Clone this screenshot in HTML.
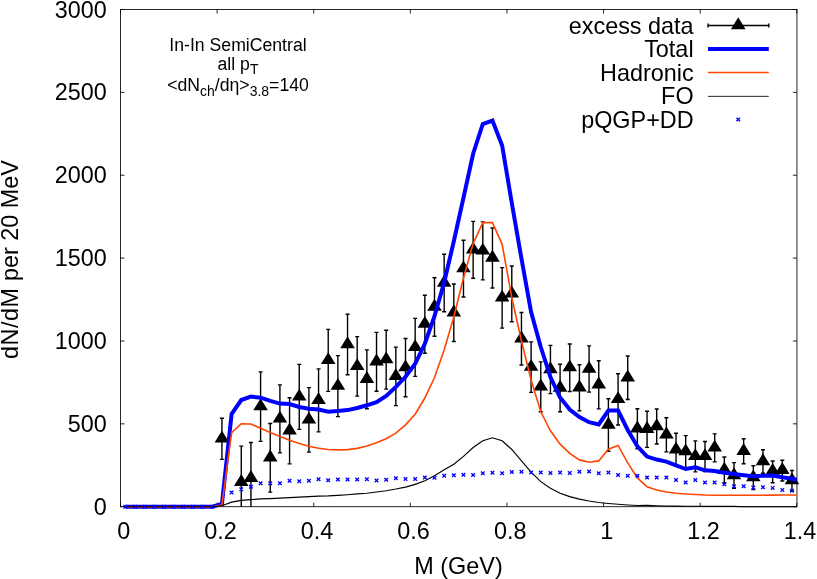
<!DOCTYPE html>
<html><head><meta charset="utf-8"><title>plot</title>
<style>
html,body{margin:0;padding:0;background:#fff;}
body{width:817px;height:579px;overflow:hidden;font-family:"Liberation Sans",sans-serif;}
svg{display:block;will-change:transform;}
text{font-family:"Liberation Sans",sans-serif;fill:#000;}
.t{font-size:23.4px;}
.a{font-size:17.65px;}
</style></head><body>
<svg width="817" height="579" viewBox="0 0 817 579">
<rect width="817" height="579" fill="#fff"/>

<rect x="120.5" y="9.5" width="676.45" height="497.2" fill="none" stroke="#000" stroke-width="0.85"/>
<path d="M120.50,506.7v-4M120.50,9.5v4M217.11,506.7v-4M217.11,9.5v4M313.73,506.7v-4M313.73,9.5v4M410.34,506.7v-4M410.34,9.5v4M506.96,506.7v-4M506.96,9.5v4M603.57,506.7v-4M603.57,9.5v4M700.18,506.7v-4M700.18,9.5v4M796.80,506.7v-4M796.80,9.5v4M120.5,506.70h4M796.95,506.70h-4M120.5,423.83h4M796.95,423.83h-4M120.5,340.97h4M796.95,340.97h-4M120.5,258.10h4M796.95,258.10h-4M120.5,175.23h4M796.95,175.23h-4M120.5,92.37h4M796.95,92.37h-4M120.5,9.50h4M796.95,9.50h-4" stroke="#000" stroke-width="0.85" fill="none"/>
<text class="t" x="123.80" y="539" text-anchor="middle">0</text>
<text class="t" x="220.41" y="539" text-anchor="middle">0.2</text>
<text class="t" x="317.03" y="539" text-anchor="middle">0.4</text>
<text class="t" x="413.64" y="539" text-anchor="middle">0.6</text>
<text class="t" x="510.26" y="539" text-anchor="middle">0.8</text>
<text class="t" x="606.87" y="539" text-anchor="middle">1</text>
<text class="t" x="703.48" y="539" text-anchor="middle">1.2</text>
<text class="t" x="800.10" y="539" text-anchor="middle">1.4</text>
<text class="t" x="106.7" y="514.80" text-anchor="end">0</text>
<text class="t" x="106.7" y="431.93" text-anchor="end">500</text>
<text class="t" x="106.7" y="349.07" text-anchor="end">1000</text>
<text class="t" x="106.7" y="266.20" text-anchor="end">1500</text>
<text class="t" x="106.7" y="183.33" text-anchor="end">2000</text>
<text class="t" x="106.7" y="100.47" text-anchor="end">2500</text>
<text class="t" x="106.7" y="17.60" text-anchor="end">3000</text>
<text class="t" x="458.5" y="574" text-anchor="middle">M (GeV)</text>
<text class="t" transform="translate(18.1,259.5) rotate(-90)" text-anchor="middle"><tspan letter-spacing="0.5">dN/dM</tspan> per 20 MeV</text>
<text class="a" x="238" y="50.7" text-anchor="middle">In-In SemiCentral</text>
<text class="a" x="238" y="69.8" text-anchor="middle">all p<tspan font-size="14" dy="4.4">T</tspan></text>
<text class="a" x="238" y="91.1" text-anchor="middle">&lt;dN<tspan font-size="14" dy="4.4">ch</tspan><tspan dy="-4.4">/d&#951;&gt;</tspan><tspan font-size="14" dy="4.4">3.8</tspan><tspan dy="-4.4">=140</tspan></text>
<text class="t" x="693.6" y="33.60" text-anchor="end">excess data</text>
<text class="t" x="693.6" y="57.10" text-anchor="end">Total</text>
<text class="t" x="693.6" y="80.60" text-anchor="end">Hadronic</text>
<text class="t" x="693.6" y="104.10" text-anchor="end">FO</text>
<text class="t" x="693.6" y="127.60" text-anchor="end">pQGP+DD</text>
<path d="M708,25.5H768.8M708,23.5v4M768.8,23.5v4" stroke="#000" stroke-width="1.4" fill="none"/>
<path d="M738.25,17.32L730.95,29.15L745.55,29.15Z" fill="#000"/>
<path d="M708,49H768.8" stroke="#0000ff" stroke-width="4"/>
<path d="M708,72.5H768.8" stroke="#ff4500" stroke-width="1.6"/>
<path d="M708,96.35H768.8" stroke="#000" stroke-width="0.85"/>
<path d="M736.45,117.70L740.05,121.30M736.45,121.30L740.05,117.70" stroke="#0000ff" stroke-width="1.3" fill="none"/>
<clipPath id="c"><rect x="120.5" y="9.5" width="676.45" height="497.7"/></clipPath>
<g clip-path="url(#c)">
<path d="M221.94,418.20V459.40M219.94,418.20h4M219.94,459.40h4M241.27,446.10V506.70M239.27,446.10h4M250.93,442.50V506.70M248.93,442.50h4M260.59,371.85V441.35M258.59,371.85h4M258.59,441.35h4M270.25,423.50V492.10M268.25,423.50h4M268.25,492.10h4M279.91,384.90V452.90M277.91,384.90h4M277.91,452.90h4M289.57,397.70V463.90M287.57,397.70h4M287.57,463.90h4M299.24,364.40V429.40M297.24,364.40h4M297.24,429.40h4M308.90,387.65V452.15M306.90,387.65h4M306.90,452.15h4M318.56,368.90V431.90M316.56,368.90h4M316.56,431.90h4M328.22,329.40V391.40M326.22,329.40h4M326.22,391.40h4M337.88,355.60V416.60M335.88,355.60h4M335.88,416.60h4M347.54,314.25V374.75M345.54,314.25h4M345.54,374.75h4M357.20,336.65V396.15M355.20,336.65h4M355.20,396.15h4M366.87,349.90V408.70M364.87,349.90h4M364.87,408.70h4M376.53,332.40V391.20M374.53,332.40h4M374.53,391.20h4M386.19,330.30V389.10M384.19,330.30h4M384.19,389.10h4M395.85,347.15V405.65M393.85,347.15h4M393.85,405.65h4M405.51,338.50V396.70M403.51,338.50h4M403.51,396.70h4M415.17,318.40V376.40M413.17,318.40h4M413.17,376.40h4M424.83,295.20V353.20M422.83,295.20h4M422.83,353.20h4M434.50,277.70V336.30M432.50,277.70h4M432.50,336.30h4M444.16,254.25V311.75M442.16,254.25h4M442.16,311.75h4M453.82,284.05V341.55M451.82,284.05h4M451.82,341.55h4M463.48,240.20V297.00M461.48,240.20h4M461.48,297.00h4M473.14,221.40V278.20M471.14,221.40h4M471.14,278.20h4M482.80,221.90V279.90M480.80,221.90h4M480.80,279.90h4M492.46,228.00V288.00M490.46,228.00h4M490.46,288.00h4M502.13,267.65V328.15M500.13,267.65h4M500.13,328.15h4M511.79,266.00V321.80M509.79,266.00h4M509.79,321.80h4M521.45,312.50V365.00M519.45,312.50h4M519.45,365.00h4M531.11,341.85V392.35M529.11,341.85h4M529.11,392.35h4M540.77,361.90V411.70M538.77,361.90h4M538.77,411.70h4M550.43,345.40V393.60M548.43,345.40h4M548.43,393.60h4M560.09,364.25V411.75M558.09,364.25h4M558.09,411.75h4M569.76,343.95V391.45M567.76,343.95h4M567.76,391.45h4M579.42,364.70V410.90M577.42,364.70h4M577.42,410.90h4M589.08,345.90V392.10M587.08,345.90h4M587.08,392.10h4M598.74,360.70V408.90M596.74,360.70h4M596.74,408.90h4M608.40,398.75V451.25M606.40,398.75h4M606.40,451.25h4M618.06,373.80V425.00M616.06,373.80h4M616.06,425.00h4M627.72,356.00V399.50M625.72,356.00h4M625.72,399.50h4M637.38,408.75V448.75M635.38,408.75h4M635.38,448.75h4M647.05,411.20V447.40M645.05,411.20h4M645.05,447.40h4M656.71,409.00V444.00M654.71,409.00h4M654.71,444.00h4M666.37,417.70V451.90M664.37,417.70h4M664.37,451.90h4M676.03,433.25V466.25M674.03,433.25h4M674.03,466.25h4M685.69,435.60V467.60M683.69,435.60h4M683.69,467.60h4M695.35,440.90V471.90M693.35,440.90h4M693.35,471.90h4M705.01,441.45V471.45M703.01,441.45h4M703.01,471.45h4M714.68,433.90V461.90M712.68,433.90h4M712.68,461.90h4M724.34,457.00V483.00M722.34,457.00h4M722.34,483.00h4M734.00,462.60V488.40M732.00,462.60h4M732.00,488.40h4M743.66,438.80V463.80M741.66,438.80h4M741.66,463.80h4M753.32,465.70V489.50M751.32,465.70h4M751.32,489.50h4M762.98,449.80V473.20M760.98,449.80h4M760.98,473.20h4M772.64,461.00V482.80M770.64,461.00h4M770.64,482.80h4M782.31,460.30V481.00M780.31,460.30h4M780.31,481.00h4M791.97,470.45V490.95M789.97,470.45h4M789.97,490.95h4" stroke="#000" stroke-width="1.4" fill="none"/>
</g>
<path d="M221.94,430.62L214.64,442.45L229.24,442.45ZM241.27,474.12L233.97,485.95L248.57,485.95ZM250.93,470.12L243.63,481.95L258.23,481.95ZM260.59,398.42L253.29,410.25L267.89,410.25ZM270.25,449.62L262.95,461.45L277.55,461.45ZM279.91,410.72L272.61,422.55L287.21,422.55ZM289.57,422.62L282.27,434.45L296.87,434.45ZM299.24,388.72L291.94,400.55L306.54,400.55ZM308.90,411.72L301.60,423.55L316.20,423.55ZM318.56,392.22L311.26,404.05L325.86,404.05ZM328.22,352.22L320.92,364.05L335.52,364.05ZM337.88,377.92L330.58,389.75L345.18,389.75ZM347.54,336.32L340.24,348.15L354.84,348.15ZM357.20,358.22L349.90,370.05L364.50,370.05ZM366.87,371.12L359.57,382.95L374.17,382.95ZM376.53,353.62L369.23,365.45L383.83,365.45ZM386.19,351.52L378.89,363.35L393.49,363.35ZM395.85,368.22L388.55,380.05L403.15,380.05ZM405.51,359.42L398.21,371.25L412.81,371.25ZM415.17,339.22L407.87,351.05L422.47,351.05ZM424.83,316.02L417.53,327.85L432.13,327.85ZM434.50,298.82L427.20,310.65L441.80,310.65ZM444.16,274.82L436.86,286.65L451.46,286.65ZM453.82,304.62L446.52,316.45L461.12,316.45ZM463.48,260.42L456.18,272.25L470.78,272.25ZM473.14,241.62L465.84,253.45L480.44,253.45ZM482.80,242.72L475.50,254.55L490.10,254.55ZM492.46,249.82L485.16,261.65L499.76,261.65ZM502.13,289.72L494.83,301.55L509.43,301.55ZM511.79,285.72L504.49,297.55L519.09,297.55ZM521.45,330.57L514.15,342.40L528.75,342.40ZM531.11,358.92L523.81,370.75L538.41,370.75ZM540.77,378.62L533.47,390.45L548.07,390.45ZM550.43,361.32L543.13,373.15L557.73,373.15ZM560.09,379.82L552.79,391.65L567.39,391.65ZM569.76,359.52L562.46,371.35L577.06,371.35ZM579.42,379.62L572.12,391.45L586.72,391.45ZM589.08,360.82L581.78,372.65L596.38,372.65ZM598.74,376.62L591.44,388.45L606.04,388.45ZM608.40,416.82L601.10,428.65L615.70,428.65ZM618.06,391.22L610.76,403.05L625.36,403.05ZM627.72,369.57L620.42,381.40L635.02,381.40ZM637.38,420.57L630.08,432.40L644.68,432.40ZM647.05,421.12L639.75,432.95L654.35,432.95ZM656.71,418.32L649.41,430.15L664.01,430.15ZM666.37,426.62L659.07,438.45L673.67,438.45ZM676.03,441.57L668.73,453.40L683.33,453.40ZM685.69,443.42L678.39,455.25L692.99,455.25ZM695.35,448.22L688.05,460.05L702.65,460.05ZM705.01,448.27L697.71,460.10L712.31,460.10ZM714.68,439.72L707.38,451.55L721.98,451.55ZM724.34,461.82L717.04,473.65L731.64,473.65ZM734.00,467.32L726.70,479.15L741.30,479.15ZM743.66,443.12L736.36,454.95L750.96,454.95ZM753.32,469.42L746.02,481.25L760.62,481.25ZM762.98,453.32L755.68,465.15L770.28,465.15ZM772.64,463.02L765.34,474.85L779.94,474.85ZM782.31,462.12L775.01,473.95L789.61,473.95ZM791.97,472.52L784.67,484.35L799.27,484.35Z" fill="#000"/>
<polyline points="125.33,506.70 134.99,506.70 144.65,506.70 154.31,506.70 163.98,506.70 173.64,506.70 183.30,506.70 192.96,506.70 202.62,506.70 212.28,506.70 221.94,504.00 231.61,414.00 241.27,400.00 250.93,396.60 260.59,397.70 270.25,400.90 279.91,403.60 289.57,404.00 299.24,407.00 308.90,408.75 318.56,409.50 328.22,411.75 337.88,411.00 347.54,410.10 357.20,408.00 366.87,405.30 376.53,402.10 386.19,395.90 395.85,386.90 405.51,376.80 415.17,363.75 424.83,343.75 434.50,316.25 444.16,282.50 453.82,241.25 463.48,197.75 473.14,153.75 482.80,124.00 492.46,120.50 502.13,145.50 511.79,203.00 521.45,258.50 531.11,312.00 540.77,347.00 550.43,377.00 560.09,397.50 569.76,409.50 579.42,417.00 589.08,422.20 598.74,424.40 608.40,410.50 618.06,410.50 627.72,430.00 637.38,446.25 647.05,456.55 656.71,459.55 666.37,461.55 676.03,465.30 685.69,469.05 695.35,467.30 705.01,470.30 714.68,471.05 724.34,472.80 734.00,474.00 743.66,475.20 753.32,476.20 762.98,475.80 772.64,475.50 782.31,477.30 791.97,478.70 796.80,479.80" fill="none" stroke="#0000ff" stroke-width="4" stroke-linejoin="miter" stroke-linecap="butt"/>
<polyline points="125.33,506.70 134.99,506.70 144.65,506.70 154.31,506.70 163.98,506.70 173.64,506.70 183.30,506.70 192.96,506.70 202.62,506.70 212.28,506.70 221.94,505.00 231.61,432.70 241.27,423.70 250.93,424.00 260.59,428.30 270.25,432.50 279.91,436.50 289.57,440.30 299.24,443.60 308.90,446.30 318.56,448.30 328.22,449.50 337.88,449.90 347.54,449.60 357.20,448.40 366.87,446.00 376.53,442.80 386.19,438.70 395.85,433.20 405.51,424.90 415.17,414.25 424.83,398.00 434.50,377.50 444.16,350.00 453.82,317.00 463.48,278.00 473.14,243.60 482.80,222.60 492.46,222.60 502.13,244.30 511.79,297.50 521.45,341.00 531.11,380.00 540.77,411.75 550.43,430.75 560.09,444.15 569.76,453.40 579.42,459.90 589.08,462.20 598.74,460.90 608.40,449.15 618.06,445.40 627.72,462.90 637.38,477.90 647.05,486.75 656.71,490.00 666.37,492.00 676.03,493.25 685.69,494.00 695.35,494.50 705.01,495.00 714.68,495.25 724.34,495.30 734.00,495.30 743.66,495.30 753.32,495.20 762.98,495.20 772.64,495.10 782.31,495.00 791.97,495.00 796.80,495.20" fill="none" stroke="#ff4500" stroke-width="1.6" stroke-linejoin="miter"/>
<polyline points="125.33,506.70 134.99,506.70 144.65,506.70 154.31,506.70 163.98,506.70 173.64,506.70 183.30,506.70 192.96,506.70 202.62,506.70 212.28,506.70 221.94,505.75 231.61,502.15 241.27,500.40 250.93,499.65 260.59,498.90 270.25,498.60 279.91,498.10 289.57,497.60 299.24,497.10 308.90,496.60 318.56,496.10 328.22,495.90 337.88,495.40 347.54,494.70 357.20,493.90 366.87,493.20 376.53,492.00 386.19,490.70 395.85,489.05 405.51,487.10 415.17,484.40 424.83,480.80 434.50,475.80 444.16,469.80 453.82,464.20 463.48,456.40 473.14,447.50 482.80,440.70 492.46,437.75 502.13,440.75 511.79,449.50 521.45,460.80 531.11,472.20 540.77,481.60 550.43,488.30 560.09,493.20 569.76,496.60 579.42,499.10 589.08,501.00 598.74,502.50 608.40,503.50 618.06,504.30 627.72,505.00 637.38,505.50 647.05,505.40 656.71,505.70 666.37,506.00 676.03,506.10 685.69,506.20 695.35,506.30 705.01,506.30 714.68,506.40 724.34,506.40 734.00,506.40 743.66,506.70 753.32,506.70 762.98,506.70 772.64,506.70 782.31,506.70 791.97,506.70 796.80,506.70" fill="none" stroke="#000" stroke-width="1.15" stroke-linejoin="miter"/>
<path d="M123.53,504.90L127.13,508.50M123.53,508.50L127.13,504.90M133.19,504.90L136.79,508.50M133.19,508.50L136.79,504.90M142.85,504.90L146.45,508.50M142.85,508.50L146.45,504.90M152.51,504.90L156.11,508.50M152.51,508.50L156.11,504.90M162.18,504.90L165.78,508.50M162.18,508.50L165.78,504.90M171.84,504.90L175.44,508.50M171.84,508.50L175.44,504.90M181.50,504.90L185.10,508.50M181.50,508.50L185.10,504.90M191.16,504.90L194.76,508.50M191.16,508.50L194.76,504.90M200.82,504.90L204.42,508.50M200.82,508.50L204.42,504.90M210.48,504.90L214.08,508.50M210.48,508.50L214.08,504.90M229.81,490.70L233.41,494.30M229.81,494.30L233.41,490.70M239.47,487.45L243.07,491.05M239.47,491.05L243.07,487.45M249.13,484.95L252.73,488.55M249.13,488.55L252.73,484.95M258.79,481.45L262.39,485.05M258.79,485.05L262.39,481.45M268.45,481.45L272.05,485.05M268.45,485.05L272.05,481.45M278.11,481.45L281.71,485.05M278.11,485.05L281.71,481.45M287.77,478.95L291.37,482.55M287.77,482.55L291.37,478.95M297.44,479.45L301.04,483.05M297.44,483.05L301.04,479.45M307.10,478.95L310.70,482.55M307.10,482.55L310.70,478.95M316.76,477.45L320.36,481.05M316.76,481.05L320.36,477.45M326.42,478.45L330.02,482.05M326.42,482.05L330.02,478.45M336.08,477.70L339.68,481.30M336.08,481.30L339.68,477.70M345.74,477.70L349.34,481.30M345.74,481.30L349.34,477.70M355.40,477.70L359.00,481.30M355.40,481.30L359.00,477.70M365.07,477.45L368.67,481.05M365.07,481.05L368.67,477.45M374.73,478.70L378.33,482.30M374.73,482.30L378.33,478.70M384.39,477.95L387.99,481.55M384.39,481.55L387.99,477.95M394.05,476.45L397.65,480.05M394.05,480.05L397.65,476.45M403.71,477.20L407.31,480.80M403.71,480.80L407.31,477.20M413.37,477.20L416.97,480.80M413.37,480.80L416.97,477.20M423.03,475.70L426.63,479.30M423.03,479.30L426.63,475.70M432.70,475.95L436.30,479.55M432.70,479.55L436.30,475.95M442.36,473.95L445.96,477.55M442.36,477.55L445.96,473.95M452.02,473.45L455.62,477.05M452.02,477.05L455.62,473.45M461.68,472.95L465.28,476.55M461.68,476.55L465.28,472.95M471.34,473.20L474.94,476.80M471.34,476.80L474.94,473.20M481.00,471.45L484.60,475.05M481.00,475.05L484.60,471.45M490.66,470.95L494.26,474.55M490.66,474.55L494.26,470.95M500.33,471.45L503.93,475.05M500.33,475.05L503.93,471.45M509.99,470.20L513.59,473.80M509.99,473.80L513.59,470.20M519.65,469.95L523.25,473.55M519.65,473.55L523.25,469.95M529.31,470.70L532.91,474.30M529.31,474.30L532.91,470.70M538.97,470.70L542.57,474.30M538.97,474.30L542.57,470.70M548.63,471.20L552.23,474.80M548.63,474.80L552.23,471.20M558.29,470.70L561.89,474.30M558.29,474.30L561.89,470.70M567.96,471.20L571.56,474.80M567.96,474.80L571.56,471.20M577.62,469.95L581.22,473.55M577.62,473.55L581.22,469.95M587.28,469.70L590.88,473.30M587.28,473.30L590.88,469.70M596.94,471.45L600.54,475.05M596.94,475.05L600.54,471.45M606.60,470.70L610.20,474.30M606.60,474.30L610.20,470.70M616.26,473.20L619.86,476.80M616.26,476.80L619.86,473.20M625.92,473.95L629.52,477.55M625.92,477.55L629.52,473.95M635.58,473.95L639.18,477.55M635.58,477.55L639.18,473.95M645.25,475.70L648.85,479.30M645.25,479.30L648.85,475.70M654.91,475.70L658.51,479.30M654.91,479.30L658.51,475.70M664.57,475.70L668.17,479.30M664.57,479.30L668.17,475.70M674.23,478.20L677.83,481.80M674.23,481.80L677.83,478.20M683.89,480.70L687.49,484.30M683.89,484.30L687.49,480.70M693.55,478.20L697.15,481.80M693.55,481.80L697.15,478.20M703.21,480.70L706.81,484.30M703.21,484.30L706.81,480.70M712.88,480.70L716.48,484.30M712.88,484.30L716.48,480.70M722.54,482.45L726.14,486.05M722.54,486.05L726.14,482.45M732.20,484.45L735.80,488.05M732.20,488.05L735.80,484.45M741.86,484.45L745.46,488.05M741.86,488.05L745.46,484.45M751.52,485.80L755.12,489.40M751.52,489.40L755.12,485.80M761.18,485.40L764.78,489.00M761.18,489.00L764.78,485.40M770.84,486.10L774.44,489.70M770.84,489.70L774.44,486.10M780.51,488.30L784.11,491.90M780.51,491.90L784.11,488.30M790.17,488.90L793.77,492.50M790.17,492.50L793.77,488.90" stroke="#0000ff" stroke-width="1.3" fill="none"/>
</svg></body></html>
